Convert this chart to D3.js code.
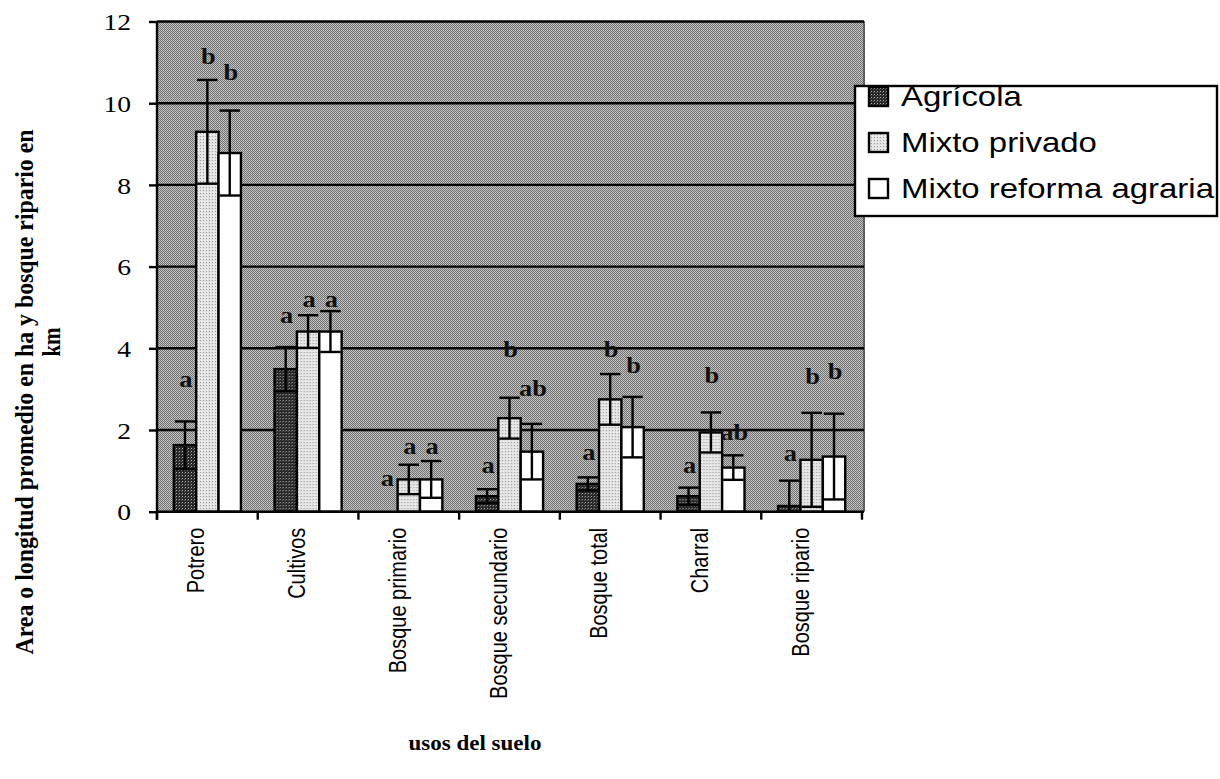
<!DOCTYPE html>
<html>
<head>
<meta charset="utf-8">
<script src="https://cdn.jsdelivr.net/npm/d3@7"></script>
<style>
  body { margin: 0; background: #fff; }
  svg { display: block; }
</style>
</head>
<body>
<svg id="chart" width="1220" height="779"></svg>
<script>
// Land-use categories and the three farm types
const categories = ["Potrero", "Cultivos", "Bosque primario", "Bosque secundario", "Bosque total", "Charral", "Bosque ripario"];
const seriesNames = ["Agrícola", "Mixto privado", "Mixto reforma agraria"];

// Mean area (ha) or riparian forest length (km) and error half-width
const agricola        = [1.63, 3.49, 0.00, 0.38, 0.68, 0.38, 0.14];
const agricolaErr     = [0.58, 0.54, 0.00, 0.17, 0.16, 0.21, 0.62];
const mixtoPrivado    = [9.30, 4.41, 0.79, 2.29, 2.75, 1.94, 1.27];
const mixtoPrivadoErr = [1.27, 0.40, 0.36, 0.50, 0.62, 0.49, 1.15];
const mixtoReforma    = [8.78, 4.41, 0.79, 1.47, 2.07, 1.08, 1.35];
const mixtoReformaErr = [1.04, 0.50, 0.45, 0.68, 0.74, 0.30, 1.05];

// Significance letters and the height (in axis units) where each one sits
const agricolaLetters = ["a", "a", "a", "a", "a", "a", "a"];
const privadoLetters  = ["b", "a", "a", "b", "b", "b", "b"];
const reformaLetters  = ["b", "a", "a", "ab", "b", "ab", "b"];
const agricolaLetterAt = [3.22, 4.79, 0.79, 1.12, 1.44, 1.12, 1.41];
const privadoLetterAt  = [11.14, 5.17, 1.57, 3.96, 3.96, 3.32, 3.30];
const reformaLetterAt  = [10.73, 5.17, 1.57, 3.00, 3.57, 1.93, 3.42];

const yTicks = [0, 2, 4, 6, 8, 10, 12];
const yTitleLine1 = "Area o longitud promedio en ha y bosque ripario en";
const yTitleLine2 = "km";
const xTitle = "usos del suelo";

const seriesValues = [agricola, mixtoPrivado, mixtoReforma];
const seriesErrors = [agricolaErr, mixtoPrivadoErr, mixtoReformaErr];
const seriesLetters = [agricolaLetters, privadoLetters, reformaLetters];
const seriesLetterAt = [agricolaLetterAt, privadoLetterAt, reformaLetterAt];

const SERIF = "'Liberation Serif', 'Times New Roman', serif";
const SANS = "'Liberation Sans', Arial, sans-serif";
const NARROW = "'Liberation Sans Narrow', 'Arial Narrow', 'Liberation Sans', sans-serif";
const STRETCH = 1.15;        // printed type is slightly wide
const LEGEND_STRETCH = 1.22;
const LW = 2.4;              // line weight

const svg = d3.select("#chart");
const plot = { left: 157, right: 862, top: 21.5, bottom: 511.7 };

const x0 = d3.scaleBand().domain(categories).range([plot.left, plot.right]).padding(0);
const x1 = d3.scaleBand().domain(seriesNames).range([0, x0.bandwidth()]).paddingInner(0).paddingOuter(0.75);
const y = d3.scaleLinear().domain([0, 12]).range([plot.bottom, plot.top]);

// Halftone-like fills
const defs = svg.append("defs");
function pixelPattern(id, size, base, dots) {
  const p = defs.append("pattern").attr("id", id).attr("patternUnits", "userSpaceOnUse")
    .attr("width", size).attr("height", size);
  p.append("rect").attr("width", size).attr("height", size).attr("fill", base);
  dots.forEach(([dx, dy, c]) => p.append("rect").attr("x", dx).attr("y", dy).attr("width", 1).attr("height", 1).attr("fill", c));
}
pixelPattern("bgFill", 2, "#727272", [[1, 0, "#c8c8c8"], [0, 1, "#bcbcbc"]]);
pixelPattern("agrFill", 3, "#262626", [[1, 1, "#b0b0b0"], [0, 2, "#606060"]]);
pixelPattern("privFill", 3, "#e2e2e2", [[1, 1, "#9c9c9c"], [2, 0, "#f4f4f4"]]);
const fills = ["url(#agrFill)", "url(#privFill)", "#ffffff"];

// Plot area
svg.append("rect")
  .attr("x", plot.left).attr("y", plot.top)
  .attr("width", plot.right - plot.left + 3).attr("height", plot.bottom - plot.top)
  .attr("fill", "url(#bgFill)");
svg.append("line")
  .attr("x1", plot.right + 2).attr("x2", plot.right + 2)
  .attr("y1", plot.top).attr("y2", plot.bottom)
  .attr("stroke", "#222").attr("stroke-width", 2).attr("stroke-dasharray", "1,1");

// Horizontal gridlines
svg.append("g").selectAll("line").data(yTicks.filter(t => t > 0)).join("line")
  .attr("x1", plot.left).attr("x2", plot.right + 2)
  .attr("y1", d => y(d)).attr("y2", d => y(d))
  .attr("stroke", "#000").attr("stroke-width", LW);

// Y axis
const yAxis = svg.append("g").attr("transform", `translate(${plot.left},0)`)
  .call(d3.axisLeft(y).tickValues(yTicks).tickSize(8).tickPadding(16).tickSizeOuter(0));
yAxis.select(".domain").attr("stroke-width", LW).attr("d", `M0,${plot.top}V${plot.bottom + 8}`);
yAxis.selectAll(".tick line").attr("stroke-width", LW);
yAxis.selectAll(".tick text")
  .attr("font-family", SERIF).attr("font-size", 24).attr("fill", "#000")
  .attr("dy", "0.34em")
  .attr("transform", `scale(${STRETCH},1)`)
  .attr("x", -26 / STRETCH);

// Bars
const groups = svg.append("g").selectAll("g").data(categories).join("g")
  .attr("transform", d => `translate(${x0(d)},0)`);

const barData = (c, ci) => seriesNames.map((s, si) => ({
  s, si, v: seriesValues[si][ci], e: seriesErrors[si][ci],
  letter: seriesLetters[si][ci], letterAt: seriesLetterAt[si][ci]
}));

groups.each(function (c, ci) {
  const g = d3.select(this);
  const data = barData(c, ci);
  const bw = x1.bandwidth();

  g.selectAll("rect.bar").data(data.filter(d => d.v > 0)).join("rect")
    .attr("class", "bar")
    .attr("x", d => x1(d.s)).attr("width", bw)
    .attr("y", d => y(d.v)).attr("height", d => y(0) - y(d.v))
    .attr("fill", d => fills[d.si])
    .attr("stroke", "#000").attr("stroke-width", LW);

  const eb = g.selectAll("g.err").data(data.filter(d => d.e > 0)).join("g").attr("class", "err")
    .attr("stroke", "#000").attr("stroke-width", LW);
  eb.append("line")
    .attr("x1", d => x1(d.s) + bw / 2).attr("x2", d => x1(d.s) + bw / 2)
    .attr("y1", d => y(Math.max(0, d.v - d.e))).attr("y2", d => y(d.v + d.e));
  eb.append("line")
    .attr("x1", d => x1(d.s) + 1).attr("x2", d => x1(d.s) + bw - 1)
    .attr("y1", d => y(d.v + d.e)).attr("y2", d => y(d.v + d.e));
  eb.filter(d => d.v - d.e > 0).append("line")
    .attr("x1", d => x1(d.s) + 1).attr("x2", d => x1(d.s) + bw - 1)
    .attr("y1", d => y(d.v - d.e)).attr("y2", d => y(d.v - d.e));

  g.selectAll("text.letter").data(data).join("text")
    .attr("class", "letter")
    .attr("transform", d => `translate(${x1(d.s) + bw / 2 + 1},${y(d.letterAt)}) scale(${STRETCH},1)`)
    .attr("text-anchor", "middle").attr("dy", "0.3em")
    .attr("font-family", SERIF).attr("font-weight", "bold").attr("font-size", 23)
    .attr("fill", "#111")
    .text(d => d.letter);
});

// X axis line and category ticks
svg.append("line")
  .attr("x1", plot.left).attr("x2", plot.right + 2)
  .attr("y1", plot.bottom).attr("y2", plot.bottom)
  .attr("stroke", "#000").attr("stroke-width", LW);
const boundaries = categories.map(c => x0(c)).concat([plot.right]);
svg.append("g").selectAll("line").data(boundaries).join("line")
  .attr("x1", d => d).attr("x2", d => d)
  .attr("y1", plot.bottom).attr("y2", plot.bottom + 8)
  .attr("stroke", "#000").attr("stroke-width", LW);

// Category labels, rotated
svg.append("g").selectAll("text").data(categories).join("text")
  .attr("transform", d => `translate(${x0(d) + x0.bandwidth() / 2 - 3},${plot.bottom + 16}) scale(${STRETCH},1) rotate(-90)`)
  .attr("text-anchor", "end")
  .attr("font-family", NARROW).attr("font-size", 20).attr("fill", "#000")
  .text(d => d);

// Axis titles
svg.append("text")
  .attr("transform", `translate(33,392) scale(${STRETCH},1) rotate(-90)`)
  .attr("text-anchor", "middle")
  .attr("font-family", SERIF).attr("font-weight", "bold").attr("font-size", 21)
  .attr("textLength", 525).attr("lengthAdjust", "spacingAndGlyphs")
  .text(yTitleLine1);
svg.append("text")
  .attr("transform", `translate(60,342) scale(${STRETCH},1) rotate(-90)`)
  .attr("text-anchor", "middle")
  .attr("font-family", SERIF).attr("font-weight", "bold").attr("font-size", 21)
  .text(yTitleLine2);
svg.append("text")
  .attr("transform", `translate(475,750) scale(${STRETCH},1)`)
  .attr("text-anchor", "middle")
  .attr("font-family", SERIF).attr("font-weight", "bold").attr("font-size", 20)
  .text(xTitle);

// Legend
const legend = svg.append("g");
legend.append("rect")
  .attr("x", 855).attr("y", 86).attr("width", 362).attr("height", 130)
  .attr("fill", "#fff").attr("stroke", "#000").attr("stroke-width", LW);
const items = legend.selectAll("g.item").data(seriesNames).join("g").attr("class", "item")
  .attr("transform", (d, i) => `translate(0,${96 + i * 46})`);
items.append("rect")
  .attr("x", 869).attr("y", -9).attr("width", 19).attr("height", 19)
  .attr("fill", (d, i) => fills[i]).attr("stroke", "#000").attr("stroke-width", LW);
items.append("text")
  .attr("transform", `translate(901,0) scale(${LEGEND_STRETCH},1)`)
  .attr("dy", "0.36em")
  .attr("font-family", SANS).attr("font-size", 27).attr("fill", "#000")
  .text(d => d);
</script>
</body>
</html>
